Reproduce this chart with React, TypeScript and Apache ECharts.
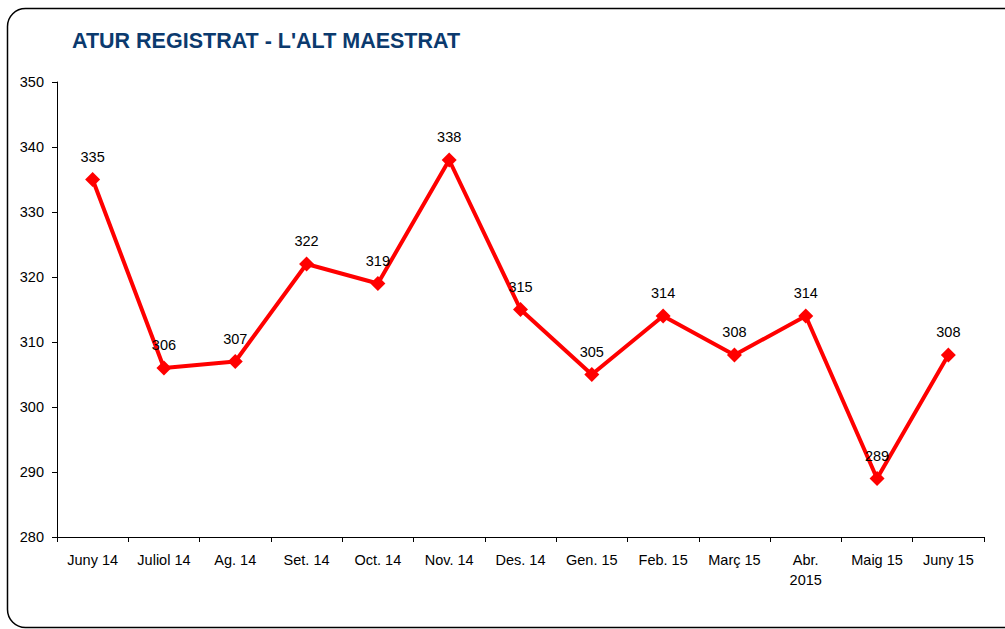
import React, { useEffect, useRef } from "react";
import * as echarts from "echarts";

const title = "ATUR REGISTRAT - L'ALT MAESTRAT";
const categories = [
  "Juny 14", "Juliol 14", "Ag. 14", "Set. 14", "Oct. 14", "Nov. 14", "Des. 14",
  "Gen. 15", "Feb. 15", "Març 15", "Abr.\n2015", "Maig 15", "Juny 15",
];
const values = [335, 306, 307, 322, 319, 338, 315, 305, 314, 308, 314, 289, 308];
const yMin = 280;
const yMax = 350;
const yStep = 10;

export default function App() {
  const ref = useRef<HTMLDivElement>(null);
  useEffect(() => {
    if (!ref.current) return;
    const chart = echarts.init(ref.current, null, { renderer: "svg" });
    const font = "Liberation Sans, Arial, sans-serif";
    chart.setOption({
      animation: false,
      backgroundColor: "#ffffff",
      textStyle: { fontFamily: font },
      title: {
        text: title,
        left: 67,
        top: 25,
        textStyle: { color: "#0b3a6e", fontSize: 21.5, fontWeight: "bold", fontFamily: font },
      },
      graphic: [
        {
          type: "rect",
          shape: { x: 7.5, y: 8.5, width: 1020, height: 619, r: 18 },
          style: { fill: "none", stroke: "#000", lineWidth: 1.5 },
          z: 100,
        },
      ],
      grid: { left: 57, top: 82, right: 21, bottom: 92 },
      xAxis: {
        type: "category",
        data: categories,
        boundaryGap: true,
        axisLine: { lineStyle: { color: "#000", width: 1 } },
        axisTick: { show: true, length: 5, alignWithLabel: false, lineStyle: { color: "#000" } },
        axisLabel: { color: "#000", fontSize: 14.5, margin: 13, lineHeight: 20, fontFamily: font, interval: 0 },
        splitLine: { show: false },
      },
      yAxis: {
        type: "value",
        min: yMin,
        max: yMax,
        interval: yStep,
        axisLine: { show: true, lineStyle: { color: "#000", width: 1 } },
        axisTick: { show: true, length: 5, lineStyle: { color: "#000" } },
        axisLabel: { color: "#000", fontSize: 14.5, margin: 13, fontFamily: font },
        splitLine: { show: false },
      },
      series: [
        {
          type: "line",
          data: values,
          symbol: "diamond",
          symbolSize: 15,
          itemStyle: { color: "#ff0000" },
          lineStyle: { color: "#ff0000", width: 4 },
          label: {
            show: true,
            position: "top",
            distance: 8,
            color: "#000",
            fontSize: 14.5,
            fontFamily: font,
          },
        },
      ],
    });
    return () => chart.dispose();
  }, []);
  return (
    <div
      ref={ref}
      style={{ position: "absolute", left: 0, top: 0, width: 1005, height: 629 }}
    />
  );
}
